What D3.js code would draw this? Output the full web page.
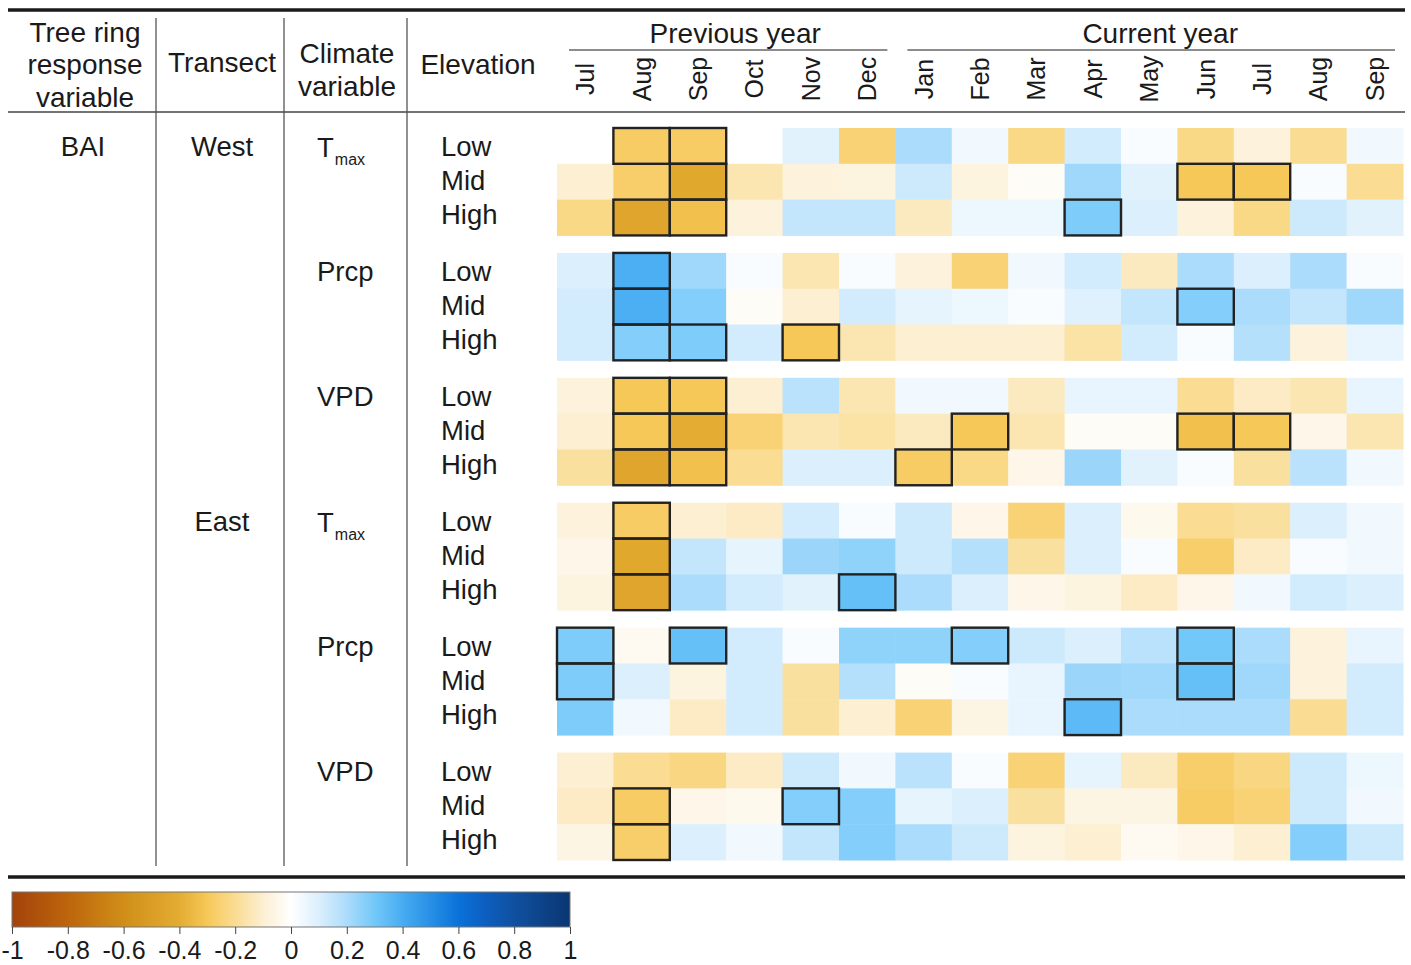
<!DOCTYPE html>
<html>
<head>
<meta charset="utf-8">
<script src="https://cdn.jsdelivr.net/npm/d3@7"></script>
<style>
  html, body { margin: 0; padding: 0; background: #ffffff; }
  svg { display: block; font-family: "Liberation Sans", Arial, Helvetica, sans-serif; }
</style>
</head>
<body>
<svg id="chart" width="1411" height="965"></svg>
<script>
// Month columns: previous-year Jul–Dec followed by current-year Jan–Sep
const months = ["Jul", "Aug", "Sep", "Oct", "Nov", "Dec", "Jan", "Feb", "Mar", "Apr", "May", "Jun", "Jul", "Aug", "Sep"];
const elevations = ["Low", "Mid", "High"];
const transects = ["West", "East"];
const climateVars = ["Tmax", "Prcp", "VPD"];
const colorTicks = [-1, -0.8, -0.6, -0.4, -0.2, 0, 0.2, 0.4, 0.6, 0.8, 1];

// Correlation coefficients, one row per elevation (Low, Mid, High), 15 months each
const westTmax = [
  [0.00, -0.28, -0.28, 0.00, 0.08, -0.25, 0.20, 0.04, -0.22, 0.12, 0.02, -0.22, -0.08, -0.20, 0.04],
  [-0.10, -0.27, -0.43, -0.15, -0.08, -0.07, 0.13, -0.07, -0.02, 0.22, 0.08, -0.30, -0.30, 0.02, -0.20],
  [-0.22, -0.45, -0.33, -0.08, 0.15, 0.15, -0.13, 0.05, 0.05, 0.28, 0.10, -0.08, -0.22, 0.13, 0.08]
];
const westPrcp = [
  [0.10, 0.39, 0.22, 0.02, -0.15, 0.02, -0.08, -0.25, 0.04, 0.12, -0.13, 0.20, 0.10, 0.20, 0.02],
  [0.12, 0.39, 0.27, -0.02, -0.10, 0.12, 0.07, 0.05, 0.02, 0.09, 0.15, 0.27, 0.20, 0.15, 0.22],
  [0.12, 0.27, 0.28, 0.12, -0.30, -0.15, -0.10, -0.10, -0.10, -0.17, 0.12, 0.02, 0.18, -0.08, 0.06]
];
const westVPD = [
  [-0.08, -0.30, -0.30, -0.10, 0.17, -0.15, 0.04, 0.04, -0.13, 0.06, 0.06, -0.20, -0.12, -0.15, 0.06],
  [-0.10, -0.30, -0.40, -0.25, -0.15, -0.17, -0.13, -0.30, -0.15, -0.02, -0.02, -0.33, -0.30, -0.05, -0.15],
  [-0.18, -0.45, -0.33, -0.20, 0.10, 0.10, -0.28, -0.22, -0.05, 0.23, 0.08, 0.02, -0.18, 0.17, 0.04]
];
const eastTmax = [
  [-0.08, -0.28, -0.10, -0.12, 0.12, 0.02, 0.13, -0.05, -0.25, 0.10, -0.04, -0.20, -0.18, 0.10, 0.04],
  [-0.05, -0.43, 0.15, 0.07, 0.23, 0.25, 0.13, 0.18, -0.18, 0.10, 0.02, -0.27, -0.12, 0.02, 0.04],
  [-0.07, -0.45, 0.20, 0.12, 0.08, 0.33, 0.20, 0.10, -0.05, -0.07, -0.12, -0.05, 0.04, 0.12, 0.10]
];
const eastPrcp = [
  [0.28, -0.03, 0.33, 0.12, 0.02, 0.25, 0.25, 0.27, 0.13, 0.10, 0.17, 0.30, 0.20, -0.08, 0.06],
  [0.28, 0.10, -0.07, 0.12, -0.18, 0.18, -0.02, 0.02, 0.06, 0.23, 0.22, 0.33, 0.22, -0.08, 0.12],
  [0.28, 0.04, -0.12, 0.12, -0.18, -0.10, -0.25, -0.06, 0.06, 0.35, 0.20, 0.20, 0.20, -0.20, 0.12]
];
const eastVPD = [
  [-0.10, -0.20, -0.23, -0.12, 0.13, 0.04, 0.17, 0.02, -0.25, 0.07, -0.13, -0.27, -0.23, 0.13, 0.05],
  [-0.12, -0.28, -0.05, -0.04, 0.27, 0.27, 0.07, 0.10, -0.18, -0.06, -0.06, -0.28, -0.25, 0.13, 0.04],
  [-0.06, -0.27, 0.10, 0.04, 0.15, 0.27, 0.20, 0.13, -0.07, -0.10, -0.03, -0.05, -0.10, 0.27, 0.13]
];

// Significant correlations: month column indices per elevation row
const westTmaxSig = [[1, 2], [2, 11, 12], [1, 2, 9]];
const westPrcpSig = [[1], [1, 11], [1, 2, 4]];
const westVPDSig = [[1, 2], [1, 2, 7, 11, 12], [1, 2, 6]];
const eastTmaxSig = [[1], [1], [1, 5]];
const eastPrcpSig = [[0, 2, 7, 11], [0, 11], [9]];
const eastVPDSig = [[], [1, 4], [1]];

const groups = [
  { transect: "West", variable: "Tmax", values: westTmax, sig: westTmaxSig },
  { transect: "West", variable: "Prcp", values: westPrcp, sig: westPrcpSig },
  { transect: "West", variable: "VPD", values: westVPD, sig: westVPDSig },
  { transect: "East", variable: "Tmax", values: eastTmax, sig: eastTmaxSig },
  { transect: "East", variable: "Prcp", values: eastPrcp, sig: eastPrcpSig },
  { transect: "East", variable: "VPD", values: eastVPD, sig: eastVPDSig }
];

const svg = d3.select("#chart");
const ink = "#1a1a1a";

// Diverging brown–white–blue colour scale
const color = d3.scaleLinear()
  .domain([-1, -0.8, -0.6, -0.4, -0.3, -0.2, -0.1, 0, 0.1, 0.2, 0.3, 0.4, 0.5, 0.6, 0.7, 0.8, 1])
  .range(["#a3420a", "#bd650c", "#d08e18", "#e4ac32", "#f6c858", "#fadc92", "#fcefd2", "#ffffff",
          "#dbeffd", "#acdcfb", "#72c8f9", "#48acf2", "#2790e6", "#0a72da", "#0c5ebf", "#1050a0", "#0a3672"])
  .interpolate(d3.interpolateRgb)
  .clamp(true);

const x = d3.scaleBand().domain(d3.range(months.length)).range([557, 1403]).padding(0);
const groupY = d3.scaleBand().domain(d3.range(groups.length)).range([128, 860]).paddingInner(0.14);
const rowY = d3.scaleBand().domain(d3.range(elevations.length)).range([0, groupY.bandwidth()]);

// Table rules
svg.append("line").attr("x1", 8).attr("x2", 1405).attr("y1", 10).attr("y2", 10)
  .attr("stroke", ink).attr("stroke-width", 3.5);
svg.append("line").attr("x1", 8).attr("x2", 1405).attr("y1", 112).attr("y2", 112)
  .attr("stroke", "#444").attr("stroke-width", 1.5);
svg.append("line").attr("x1", 8).attr("x2", 1405).attr("y1", 877).attr("y2", 877)
  .attr("stroke", ink).attr("stroke-width", 3.5);
[156, 284, 407].forEach(vx => {
  svg.append("line").attr("x1", vx).attr("x2", vx).attr("y1", 18).attr("y2", 866)
    .attr("stroke", "#555").attr("stroke-width", 1.3);
});

// Column headers
const headFont = 28;
function multiline(lines, cx, ys) {
  lines.forEach((t, i) => {
    svg.append("text").attr("x", cx).attr("y", ys[i]).attr("text-anchor", "middle")
      .attr("dominant-baseline", "central").attr("font-size", headFont).attr("fill", ink).text(t);
  });
}
multiline(["Tree ring", "response", "variable"], 85, [32, 64, 97]);
multiline(["Transect"], 222, [62]);
multiline(["Climate", "variable"], 347, [53, 86]);
multiline(["Elevation"], 478, [64]);

// Period headers with underlines
const periods = [
  { label: "Previous year", from: 0, to: 5, shift: 7 },
  { label: "Current year", from: 6, to: 14, shift: 9 }
];
periods.forEach(p => {
  const x0 = x(p.from) + 12, x1 = x(p.to) + x.bandwidth() - 8;
  svg.append("text").attr("x", (x0 + x1) / 2 + p.shift).attr("y", 33).attr("text-anchor", "middle")
    .attr("dominant-baseline", "central").attr("font-size", headFont).attr("fill", ink).text(p.label);
  svg.append("line").attr("x1", x0).attr("x2", x1).attr("y1", 50).attr("y2", 50)
    .attr("stroke", "#666").attr("stroke-width", 1.3);
});

// Rotated month labels
svg.append("g").selectAll("text").data(months).join("text")
  .attr("transform", (d, i) => `translate(${x(i) + x.bandwidth() / 2},79) rotate(-90)`)
  .attr("text-anchor", "middle").attr("dominant-baseline", "central")
  .attr("font-size", 25).attr("fill", ink).text(d => d);

// Heatmap cells
const cells = [];
const boxes = [];
groups.forEach((g, gi) => {
  g.values.forEach((row, ri) => {
    row.forEach((v, ci) => cells.push({ gi, ri, ci, v }));
    g.sig[ri].forEach(ci => boxes.push({ gi, ri, ci }));
  });
});
const cellY = d => groupY(d.gi) + rowY(d.ri);

svg.append("g").selectAll("rect").data(cells).join("rect")
  .attr("x", d => x(d.ci)).attr("y", cellY)
  .attr("width", x.bandwidth() + 0.5).attr("height", rowY.bandwidth() + 0.5)
  .attr("fill", d => color(d.v));

svg.append("g").selectAll("rect").data(boxes).join("rect")
  .attr("x", d => x(d.ci)).attr("y", cellY)
  .attr("width", x.bandwidth()).attr("height", rowY.bandwidth())
  .attr("fill", "none").attr("stroke", "#222").attr("stroke-width", 2.4);

// Row labels
const rowFont = 27.5;
const labelStep = 34;
groups.forEach((g, gi) => {
  const cy = groupY(gi) + rowY.bandwidth() / 2 + 1;
  elevations.forEach((e, ri) => {
    svg.append("text").attr("x", 441).attr("y", cy + ri * labelStep)
      .attr("dominant-baseline", "central").attr("font-size", rowFont).attr("fill", ink).text(e);
  });
  if (g.variable === "Tmax") {
    const t = svg.append("text").attr("x", 317).attr("y", cy)
      .attr("dominant-baseline", "central").attr("font-size", rowFont).attr("fill", ink);
    t.append("tspan").text("T");
    t.append("tspan").attr("font-size", 16).attr("dx", 1).attr("dy", 12).text("max");
  } else {
    svg.append("text").attr("x", 317).attr("y", cy)
      .attr("dominant-baseline", "central").attr("font-size", rowFont).attr("fill", ink).text(g.variable);
  }
  if (gi === 0 || groups[gi - 1].transect !== g.transect) {
    svg.append("text").attr("x", 222).attr("y", cy).attr("text-anchor", "middle")
      .attr("dominant-baseline", "central").attr("font-size", rowFont).attr("fill", ink).text(g.transect);
  }
  if (gi === 0) {
    svg.append("text").attr("x", 83).attr("y", cy).attr("text-anchor", "middle")
      .attr("dominant-baseline", "central").attr("font-size", rowFont).attr("fill", ink).text("BAI");
  }
});

// Colour bar
const cb = d3.scaleLinear().domain([-1, 1]).range([12, 570]);
const defs = svg.append("defs");
const grad = defs.append("linearGradient").attr("id", "cbgrad").attr("x1", "0%").attr("x2", "100%");
d3.range(0, 101).forEach(i => {
  const v = -1 + i * 0.02;
  grad.append("stop").attr("offset", `${i}%`).attr("stop-color", color(v));
});
svg.append("rect").attr("x", cb(-1)).attr("y", 892).attr("width", cb(1) - cb(-1)).attr("height", 35)
  .attr("fill", "url(#cbgrad)").attr("stroke", "#777").attr("stroke-width", 1);

const tickLabel = d => (d === 0 || Math.abs(d) === 1) ? String(d) : d.toFixed(1);
const axis = d3.axisBottom(cb).tickValues(colorTicks).tickSize(7).tickPadding(7).tickFormat(tickLabel);
const ag = svg.append("g").attr("transform", "translate(0,927)").call(axis);
ag.select(".domain").remove();
ag.selectAll(".tick line").attr("stroke", "#444");
ag.selectAll(".tick text").attr("font-size", 25).attr("fill", ink)
  .attr("font-family", "\"Liberation Sans\", Arial, Helvetica, sans-serif");
</script>
</body>
</html>
